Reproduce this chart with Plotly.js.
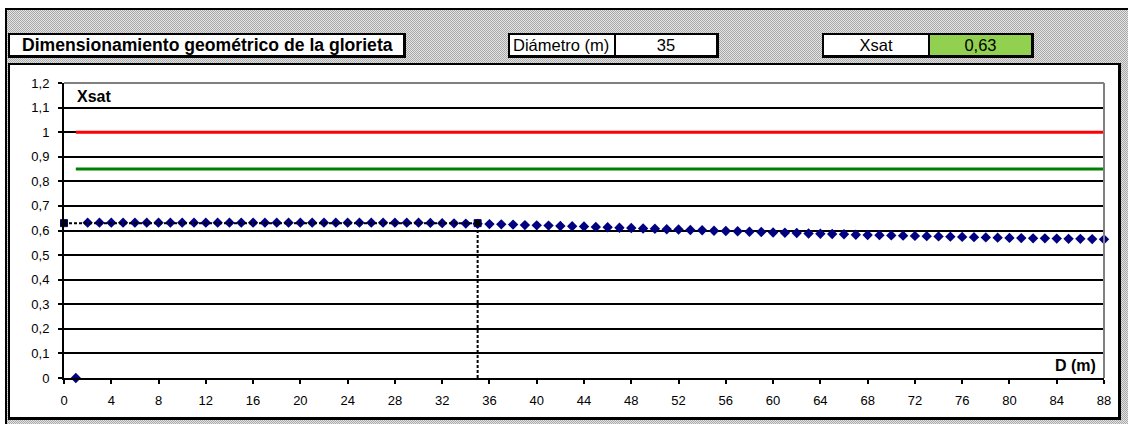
<!DOCTYPE html>
<html>
<head>
<meta charset="utf-8">
<script src="https://cdn.plot.ly/plotly-3.0.1.min.js"></script>
<style>
  html, body { margin:0; padding:0; width:1128px; height:424px; overflow:hidden; background:#fff; }
  #frame { position:absolute; left:5px; top:8px; width:1123px; height:416px;
    border-left:2px solid #000; border-top:2px solid #000; box-sizing:border-box;
    background: repeating-conic-gradient(#a8a8a8 0 25%, #e4e4e4 0 50%) 0 0/2px 2px; }
  .box { position:absolute; box-sizing:border-box; background:#fff;
    border:2px solid #000; border-right-width:3px; border-bottom-width:3px;
    font-family:"Liberation Sans", Arial, sans-serif; }
  .cell { position:absolute; top:0; bottom:0; display:flex; align-items:center; justify-content:center;
    font-family:"Liberation Sans", Arial, sans-serif; font-size:16.5px; color:#000; }
  #panel { position:absolute; left:8px; top:63px; width:1113px; height:357px; background:#fff;
    border:2px solid #000; border-right-width:3px; border-bottom-width:3px; box-sizing:border-box; }
  #chart { position:absolute; left:0; top:0; width:1128px; height:424px; }
</style>
</head>
<body>
<div id="frame"></div>
<div id="panel"></div>
<div class="box" id="titlebox" style="left:8px; top:33px; width:398px; height:25px;">
  <div style="position:absolute; left:12px; top:0; bottom:0; display:flex; align-items:center; font-weight:bold; font-size:17.6px; white-space:nowrap;">Dimensionamiento geométrico de la glorieta</div>
</div>
<div class="box" style="left:508px; top:33px; width:211px; height:25px;">
  <div class="cell" id="lblD" style="left:0; width:106px; border-right:2px solid #000; justify-content:flex-start; padding-left:3px; box-sizing:border-box; white-space:nowrap;"></div>
  <div class="cell" id="valD" style="left:106px; right:0;"></div>
</div>
<div class="box" style="left:822px; top:33px; width:212px; height:25px;">
  <div class="cell" id="lblX" style="left:0; width:106px; border-right:2px solid #000; box-sizing:border-box;"></div>
  <div class="cell" id="valX" style="left:106px; right:0; background:#92d050;"></div>
</div>
<div id="chart"></div>
<script>
// ---- data ----
const diametroLabel = "Diámetro (m)";
const diametro = 35;
const xsatLabel = "Xsat";
const xsatValue = 0.63;

const D = [1,2,3,4,5,6,7,8,9,10,11,12,13,14,15,16,17,18,19,20,21,22,23,24,25,26,27,28,29,30,
  31,32,33,34,35,36,37,38,39,40,41,42,43,44,45,46,47,48,49,50,51,52,53,54,55,56,57,58,59,60,
  61,62,63,64,65,66,67,68,69,70,71,72,73,74,75,76,77,78,79,80,81,82,83,84,85,86,87,88];
const Xsat = [0,0.632,0.632,0.632,0.632,0.632,0.632,0.632,0.632,0.632,0.632,0.632,0.632,0.632,0.632,
  0.632,0.632,0.632,0.632,0.632,0.632,0.632,0.632,0.632,0.632,0.632,0.632,0.632,0.632,0.632,
  0.631,0.630,0.629,0.628,0.627,0.626,0.625,0.624,0.622,0.621,0.620,0.618,0.617,0.616,0.614,
  0.613,0.611,0.610,0.608,0.607,0.605,0.604,0.602,0.601,0.599,0.598,0.597,0.595,0.594,0.592,
  0.591,0.590,0.588,0.587,0.586,0.585,0.583,0.582,0.581,0.580,0.579,0.578,0.577,0.576,0.575,
  0.574,0.573,0.572,0.571,0.570,0.569,0.568,0.568,0.567,0.566,0.566,0.565,0.564];
const limitX = [1, 88];
const limitRed = [1, 1];
const limitGreen = [0.85, 0.85];
const xTicks = [0,4,8,12,16,20,24,28,32,36,40,44,48,52,56,60,64,68,72,76,80,84,88];

document.getElementById('lblD').textContent = diametroLabel;
document.getElementById('valD').textContent = String(diametro);
document.getElementById('lblX').textContent = xsatLabel;
document.getElementById('valX').textContent = String(xsatValue).replace('.', ',');

const traces = [
  {x: limitX, y: limitRed, mode:'lines', line:{color:'#ff0000', width:3}, hoverinfo:'skip'},
  {x: limitX, y: limitGreen, mode:'lines', line:{color:'#008000', width:3}, hoverinfo:'skip'},
  {x: [diametro, diametro], y: [0, xsatValue], mode:'lines',
   line:{color:'#000', width:2, dash:'3px,2px'}},
  {x: D, y: Xsat, mode:'markers', cliponaxis:false, marker:{symbol:'diamond', color:'#000080', size:8}},
  {x: [0, diametro], y: [xsatValue, xsatValue], mode:'lines+markers', cliponaxis:false,
   line:{color:'#000', width:2, dash:'3px,2px'}, marker:{symbol:'square', color:'#000', size:7, line:{color:'#000080', width:1}}}
];

const layout = {
  width:1128, height:424,
  margin:{l:64, r:24, t:83, b:46},
  paper_bgcolor:'rgba(0,0,0,0)', plot_bgcolor:'rgba(0,0,0,0)',
  showlegend:false,
  separators:',.',
  font:{family:'"Liberation Sans", Arial, sans-serif', size:13, color:'#000'},
  xaxis:{range:[0,88], tickvals:xTicks, ticktext:xTicks.map(String), ticks:'outside', ticklen:4, tickwidth:2, tickcolor:'#000',
    ticklabelstandoff:5,
    showgrid:false, zeroline:false, showline:true, linecolor:'#000', linewidth:2, tickfont:{size:13}},
  yaxis:{range:[0,1.2], dtick:0.1, ticks:'outside', ticklen:4, tickwidth:2, tickcolor:'#000',
    ticklabelstandoff:6,
    showgrid:true, gridcolor:'#000', gridwidth:2, zeroline:false, showline:true, linecolor:'#000', linewidth:2,
    tickfont:{size:13}},
  shapes:[
    {type:'line', xref:'paper', yref:'paper', x0:0, x1:1, y0:1, y1:1, line:{color:'#808080', width:2}},
    {type:'line', xref:'paper', yref:'paper', x0:1, x1:1, y0:0, y1:1, line:{color:'#808080', width:2}}
  ],
  annotations:[
    {xref:'paper', yref:'paper', x:0.011, y:0.99, xanchor:'left', yanchor:'top', text:'<b>Xsat</b>', showarrow:false, font:{size:16}},
    {xref:'paper', yref:'paper', x:0.994, y:0.008, xanchor:'right', yanchor:'bottom', text:'<b>D (m)</b>', showarrow:false, font:{size:16}}
  ]
};

Plotly.newPlot('chart', traces, layout, {staticPlot:true, displayModeBar:false});
</script>
</body>
</html>
